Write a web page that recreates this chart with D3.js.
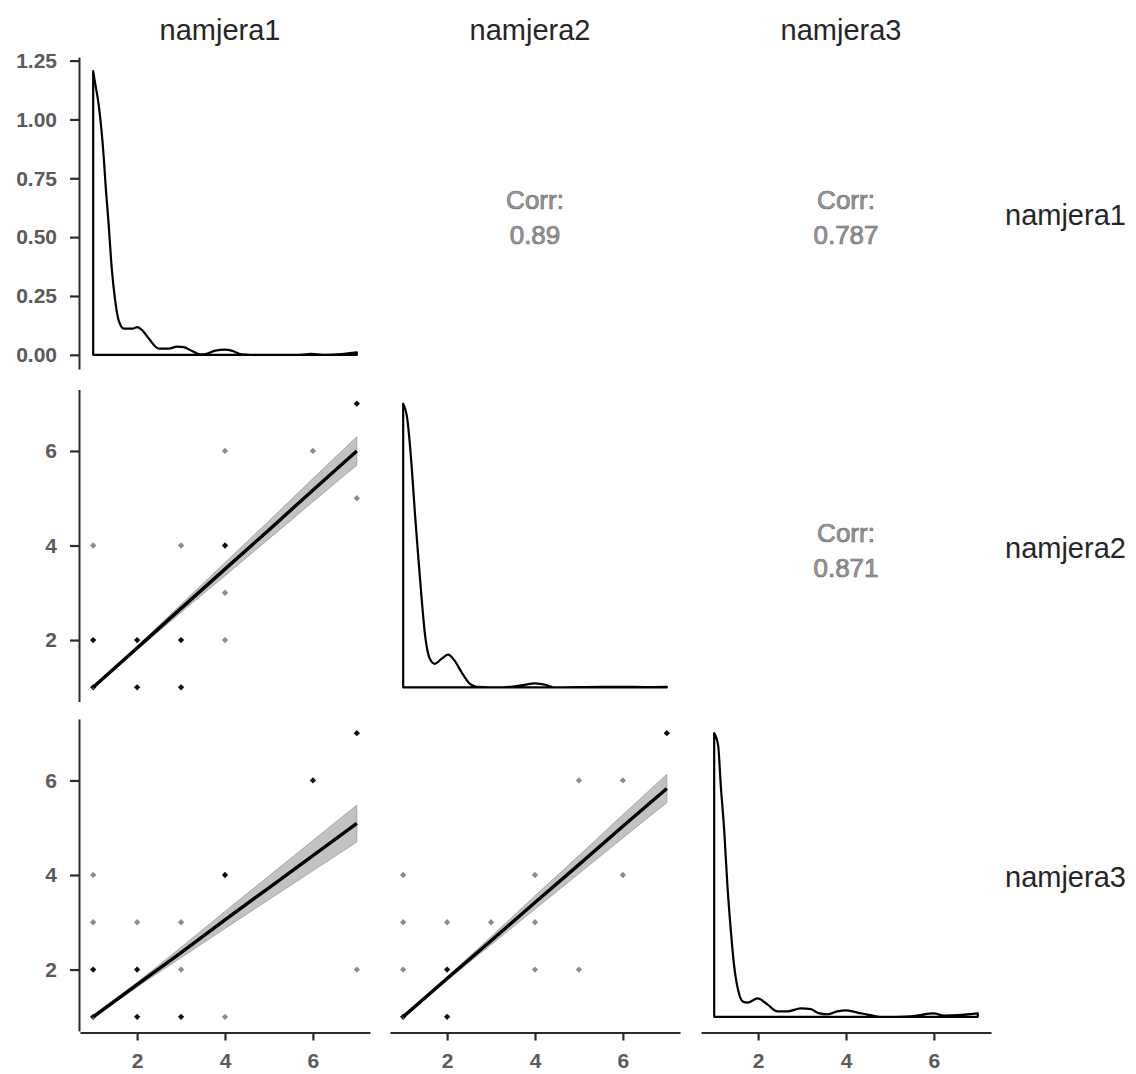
<!DOCTYPE html>
<html>
<head>
<meta charset="utf-8">
<script src="https://cdn.jsdelivr.net/npm/d3@7"></script>
<style>
  html, body { margin: 0; padding: 0; background: #ffffff; }
  svg { display: block; }
  text { font-family: "Liberation Sans", Arial, sans-serif; }
</style>
</head>
<body>
<svg id="chart" width="1136" height="1074"></svg>
<script>
// ---------------- data ----------------
const variables = ["namjera1", "namjera2", "namjera3"];
const valueTicks = [2, 4, 6];
const valueDomain = [1, 7];
const densityTicks = [0, 0.25, 0.5, 0.75, 1.0, 1.25];
const densityTickLabels = ["0.00", "0.25", "0.50", "0.75", "1.00", "1.25"];

// density of namjera1 (actual density values, top-left panel)
const density1 = [[1,1.205],[1.03,1.17],[1.13,1.055],[1.24,0.84],[1.29,0.70],[1.35,0.56],[1.42,0.373],
  [1.50,0.231],[1.58,0.146],[1.70,0.111],[1.89,0.111],[2.0,0.118],[2.12,0.104],[2.27,0.068],
  [2.5,0.026],[2.72,0.026],[2.91,0.035],[3.06,0.033],[3.25,0.016],[3.44,0.002],[3.55,0.003],
  [3.78,0.018],[4.0,0.022],[4.15,0.018],[4.38,0.002],[4.6,0],[5.7,0],[5.97,0.004],[6.23,0],
  [6.65,0.003],[7,0.01]];
// density of namjera2 (relative to its peak)
const density2 = [[1,1.0],[1.09,0.95],[1.19,0.785],[1.27,0.608],[1.34,0.466],[1.42,0.313],[1.49,0.195],
  [1.61,0.100],[1.72,0.083],[1.87,0.100],[2.02,0.115],[2.17,0.094],[2.33,0.053],[2.52,0.012],
  [2.67,0.002],[3.27,0],[3.73,0.008],[3.99,0.014],[4.26,0.008],[4.41,0],[5.5,0.002],[6.0,0.002],
  [6.5,0.001],[7,0.002]];
// density of namjera3 (relative to its peak)
const density3 = [[1,1.0],[1.09,0.957],[1.15,0.816],[1.23,0.653],[1.30,0.465],[1.38,0.302],[1.45,0.185],
  [1.55,0.091],[1.65,0.054],[1.76,0.050],[1.99,0.065],[2.21,0.044],[2.44,0.019],[2.67,0.019],
  [2.97,0.030],[3.20,0.027],[3.39,0.012],[3.58,0.009],[3.80,0.019],[3.99,0.023],[4.26,0.015],
  [4.56,0.006],[4.79,0],[5.47,0.002],[6.0,0.012],[6.23,0.004],[7,0.012]];

// scatter points [x, y, overlap count]
const points21 = [[1,4,1],[1,2,3],[1,1,3],[2,2,3],[2,1,3],[3,4,1],[3,2,3],[3,1,3],[4,6,1],[4,4,3],
  [4,3,1],[4,2,1],[6,6,1],[6,5,1],[7,7,3],[7,5,1]];
const points31 = [[1,4,1],[1,3,1],[1,2,3],[1,1,3],[2,3,1],[2,2,3],[2,1,3],[3,3,1],[3,2,1],[3,1,3],
  [4,4,3],[4,3,1],[4,1,1],[6,6,3],[7,7,3],[7,2,1]];
const points32 = [[1,4,1],[1,3,1],[1,2,1],[1,1,3],[2,3,1],[2,2,3],[2,1,3],[3,3,1],[4,4,1],[4,3,1],
  [4,2,1],[5,6,1],[5,2,1],[6,6,1],[6,4,1],[7,7,3]];

// linear fits [x, fitted y, CI half-width]
const fit21 = [[1,1.0,0.03],[2,1.83,0.04],[3,2.67,0.085],[4,3.5,0.14],[5,4.33,0.19],[6,5.17,0.245],[7,6.0,0.3]];
const fit31 = [[1,1.0,0.04],[2,1.68,0.05],[3,2.36,0.11],[4,3.05,0.18],[5,3.73,0.25],[6,4.41,0.32],[7,5.09,0.39]];
const fit32 = [[1,1.0,0.03],[2,1.81,0.04],[3,2.61,0.085],[4,3.42,0.14],[5,4.22,0.19],[6,5.03,0.245],[7,5.83,0.3]];

// correlations [row, col, value]
const correlations = [[0,1,"0.89"],[0,2,"0.787"],[1,2,"0.871"]];

// ---------------- layout ----------------
const colLeft = [80, 390, 701];
const rowTop = [57, 389.5, 719];
const panelW = 290, panelH = 312;
const expand = 0.05;

const svg = d3.select("#chart");

function valueScaleX(c) {
  const span = valueDomain[1] - valueDomain[0];
  return d3.scaleLinear()
    .domain([valueDomain[0] - span * expand, valueDomain[1] + span * expand])
    .range([colLeft[c], colLeft[c] + panelW]);
}
function valueScaleY(r) {
  const span = valueDomain[1] - valueDomain[0];
  return d3.scaleLinear()
    .domain([valueDomain[0] - span * expand, valueDomain[1] + span * expand])
    .range([rowTop[r] + panelH, rowTop[r]]);
}
const dMax = d3.max(density1, d => d[1]);
const densityY = d3.scaleLinear()
  .domain([-dMax * expand, dMax * (1 + expand)])
  .range([rowTop[0] + panelH, rowTop[0]]);

const axisColor = "#2b2b2b";
const tickTextColor = "#5a5a5a";

// ---------------- density panels ----------------
function drawDensity(data, x, y0, yFn) {
  const area = d3.area()
    .x(d => x(d[0]))
    .y0(y0)
    .y1(d => yFn(d[1]))
    .curve(d3.curveMonotoneX);
  svg.append("path")
    .datum(data)
    .attr("d", area)
    .attr("fill", "none")
    .attr("stroke", "#000")
    .attr("stroke-width", 2.2)
    .attr("stroke-linejoin", "round");
}
drawDensity(density1, valueScaleX(0), densityY(0), v => densityY(v));
{
  const y = valueScaleY(1);
  drawDensity(density2, valueScaleX(1), y(valueDomain[0]), v => y(valueDomain[0] + v * (valueDomain[1] - valueDomain[0])));
}
{
  const y = valueScaleY(2);
  drawDensity(density3, valueScaleX(2), y(valueDomain[0]), v => y(valueDomain[0] + v * (valueDomain[1] - valueDomain[0])));
}

// ---------------- scatter panels ----------------
const pointSymbol = d3.symbol().type(d3.symbolSquare).size(20);
function drawScatter(points, fit, r, c) {
  const x = valueScaleX(c), y = valueScaleY(r);
  const g = svg.append("g");
  g.selectAll("path.pt")
    .data(points)
    .join("path")
    .attr("class", "pt")
    .attr("transform", d => `translate(${x(d[0])},${y(d[1])}) rotate(45)`)
    .attr("d", pointSymbol)
    .attr("fill", "#000")
    .attr("fill-opacity", d => d[2] > 1 ? 0.95 : 0.45);
  const band = d3.area()
    .x(d => x(d[0]))
    .y0(d => y(d[1] - d[2]))
    .y1(d => y(d[1] + d[2]))
    .curve(d3.curveMonotoneX);
  g.append("path")
    .datum(fit)
    .attr("d", band)
    .attr("fill", "#c2c2c2")
    .attr("stroke", "#9a9a9a")
    .attr("stroke-width", 0.8);
  const line = d3.line().x(d => x(d[0])).y(d => y(d[1]));
  g.append("path")
    .datum(fit)
    .attr("d", line)
    .attr("fill", "none")
    .attr("stroke", "#000")
    .attr("stroke-width", 3.4);
}
drawScatter(points21, fit21, 1, 0);
drawScatter(points31, fit31, 2, 0);
drawScatter(points32, fit32, 2, 1);

// ---------------- correlation text ----------------
correlations.forEach(([r, c, v]) => {
  const cx = colLeft[c] + panelW / 2;
  const cy = rowTop[r] + panelH / 2;
  const t = svg.append("text")
    .attr("x", cx)
    .attr("text-anchor", "middle")
    .attr("font-size", 26)
    .attr("fill", "#9a9a9a")
    .attr("stroke", "#6e6e6e")
    .attr("stroke-width", 0.7);
  t.append("tspan").attr("x", cx).attr("y", cy - 4).text("Corr:");
  t.append("tspan").attr("x", cx).attr("y", cy + 31).text(v);
});

// ---------------- axes ----------------
function styleAxis(g) {
  g.selectAll(".domain").attr("stroke", axisColor).attr("stroke-width", 2);
  g.selectAll(".tick line").attr("stroke", axisColor).attr("stroke-width", 2.2);
  g.selectAll(".tick text")
    .attr("fill", tickTextColor)
    .attr("font-size", 21)
    .attr("font-weight", "bold")
    .attr("font-family", "'Liberation Sans', Arial, sans-serif");
}
// Row 1 left axis (density)
{
  const g = svg.append("g")
    .attr("transform", `translate(${colLeft[0] - 1},0)`)
    .call(d3.axisLeft(densityY).tickValues(densityTicks)
      .tickFormat((d, i) => densityTickLabels[i]).tickSize(9).tickSizeOuter(0).tickPadding(13));
  styleAxis(g);
}
// Rows 2, 3 left axes
[1, 2].forEach(r => {
  const g = svg.append("g")
    .attr("transform", `translate(${colLeft[0] - 1},0)`)
    .call(d3.axisLeft(valueScaleY(r)).tickValues(valueTicks)
      .tickFormat(d3.format("d")).tickSize(9).tickSizeOuter(0).tickPadding(13));
  styleAxis(g);
});
// Bottom axes
[0, 1, 2].forEach(c => {
  const g = svg.append("g")
    .attr("transform", `translate(0,${rowTop[2] + panelH + 1.5})`)
    .call(d3.axisBottom(valueScaleX(c)).tickValues(valueTicks)
      .tickFormat(d3.format("d")).tickSize(8).tickSizeOuter(0).tickPadding(13));
  styleAxis(g);
});

// ---------------- strip labels ----------------
variables.forEach((v, i) => {
  svg.append("text")
    .attr("x", colLeft[i] + panelW / 2 - 5)
    .attr("y", 40)
    .attr("text-anchor", "middle")
    .attr("font-size", 29)
    .attr("fill", "#262626")
    .text(v);
  svg.append("text")
    .attr("x", 1005)
    .attr("y", rowTop[i] + panelH / 2 + 12)
    .attr("text-anchor", "start")
    .attr("font-size", 29)
    .attr("fill", "#262626")
    .text(v);
});
</script>
</body>
</html>
